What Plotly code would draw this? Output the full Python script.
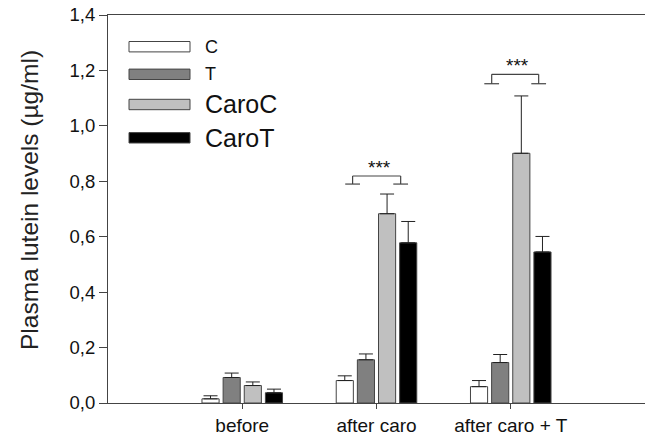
import plotly.graph_objects as go

# ---- data ----
categories = ["before", "after caro", "after caro + T"]
cat_pos = [1, 2, 3]
series_names = ["C", "T", "CaroC", "CaroT"]
C_vals = [0.015, 0.081, 0.059]
T_vals = [0.092, 0.156, 0.146]
CaroC_vals = [0.063, 0.683, 0.901]
CaroT_vals = [0.037, 0.578, 0.545]
C_err = [0.011, 0.017, 0.022]
T_err = [0.016, 0.021, 0.029]
CaroC_err = [0.013, 0.071, 0.207]
CaroT_err = [0.013, 0.077, 0.056]
y_ticks = [0.0, 0.2, 0.4, 0.6, 0.8, 1.0, 1.2, 1.4]
# significance brackets: (x_left, x_right, y_top, y_foot, label)
brackets = [
    (1.822, 2.180, 0.819, 0.790, "***"),
    (2.858, 3.208, 1.186, 1.152, "***"),
]

values = [C_vals, T_vals, CaroC_vals, CaroT_vals]
errors = [C_err, T_err, CaroC_err, CaroT_err]
colors = ["#ffffff", "#808080", "#c0c0c0", "#000000"]
label_sizes = [18, 18, 25, 25]

FONT = "Liberation Sans, Arial, sans-serif"
LINE = "#444444"

fig = go.Figure()
for name, v, e, c in zip(series_names, values, errors, colors):
    fig.add_trace(go.Bar(
        x=cat_pos, y=v, name=name,
        marker=dict(color=c, line=dict(color=LINE, width=1)),
        error_y=dict(type="data", array=e, symmetric=False, arrayminus=[0] * len(e),
                     color="#222222", thickness=1, width=7),
        showlegend=False,
    ))

# brackets
for xl, xr, yt, yf, lab in brackets:
    foot = 0.055
    path_segs = [
        (xl, yt, xr, yt),
        (xl, yt, xl, yf),
        (xr, yt, xr, yf),
        (xl - foot, yf, xl + foot, yf),
        (xr - foot, yf, xr + foot, yf),
    ]
    for x0, y0, x1, y1 in path_segs:
        fig.add_shape(type="line", xref="x", yref="y", x0=x0, y0=y0, x1=x1, y1=y1,
                      line=dict(color=LINE, width=1.2))
    fig.add_annotation(x=(xl + xr) / 2 + 0.02, y=yt, xref="x", yref="y", text=lab,
                       showarrow=False, yanchor="bottom", yshift=-4,
                       font=dict(family=FONT, size=19, color="#111111"))

# manual legend (pixel layout converted to paper coords)
L, R, T, B = 108, 645, 15, 403
W, H = R - L, B - T
def px(xp):
    return (xp - L) / W
def py(yp):
    return (B - yp) / H
row_centers = [46.7, 74.3, 104.5, 137.8]
for name, c, yc, fs in zip(series_names, colors, row_centers, label_sizes):
    fig.add_shape(type="rect", xref="paper", yref="paper",
                  x0=px(129), x1=px(190), y0=py(yc + 5.2), y1=py(yc - 5.2),
                  fillcolor=c, line=dict(color=LINE, width=1))
    fig.add_annotation(x=px(203), y=py(yc), xref="paper", yref="paper", text=name,
                       showarrow=False, xanchor="left", yanchor="middle",
                       font=dict(family=FONT, size=fs, color="#111111"))

# y axis title
fig.add_annotation(x=px(29), y=py(200), xref="paper", yref="paper",
                   text="Plasma lutein levels (µg/ml)", textangle=-90, showarrow=False,
                   xanchor="center", yanchor="middle",
                   font=dict(family=FONT, size=24.5, color="#222222"))

fig.update_layout(
    width=645, height=440,
    margin=dict(l=L, r=0, t=T, b=440 - B, pad=0),
    paper_bgcolor="white", plot_bgcolor="white",
    barmode="group", bargap=0.37, bargroupgap=0.19,
    separators=", ",
    font=dict(family=FONT, color="#111111"),
    xaxis=dict(range=[0, 4], tickvals=cat_pos, ticktext=categories,
               showline=True, linecolor=LINE, linewidth=1, mirror=True,
               ticks="outside", ticklen=5, tickcolor=LINE, showgrid=False, zeroline=False,
               tickfont=dict(family=FONT, size=19, color="#111111")),
    yaxis=dict(range=[0, 1.4], tickvals=y_ticks, tickformat=".1f",
               showline=True, linecolor=LINE, linewidth=1,
               ticks="outside", ticklen=8, tickcolor=LINE, showgrid=False, zeroline=False,
               tickfont=dict(family=FONT, size=18.5, color="#111111")),
)

fig.write_html("out.html",
               config={"displayModeBar": False},
               post_script="document.body.style.margin='0';document.body.style.overflow='hidden';")
